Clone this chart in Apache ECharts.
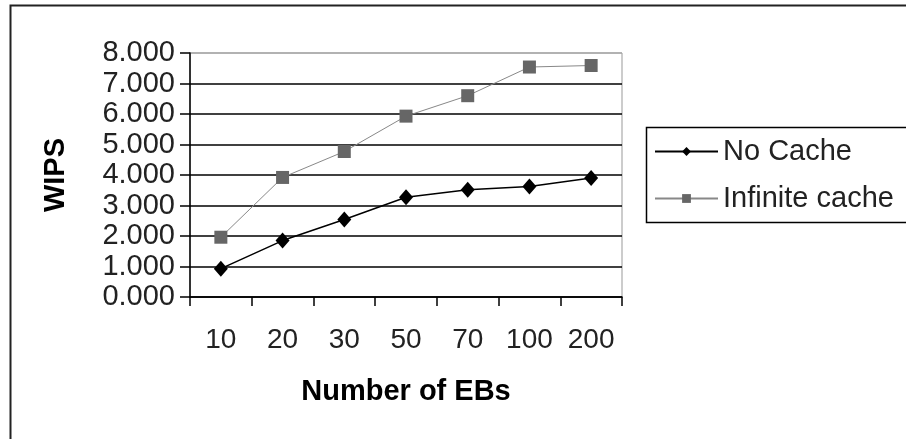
<!DOCTYPE html>
<html>
<head>
<meta charset="utf-8">
<script src="https://cdn.jsdelivr.net/npm/echarts@6/dist/echarts.min.js"></script>
<style>
html,body{margin:0;padding:0;background:#fff;}
#chart{width:906px;height:439px;}
</style>
</head>
<body>
<div id="chart"></div>
<script>
var categories = ['10', '20', '30', '50', '70', '100', '200'];
var noCache = [0.93, 1.85, 2.54, 3.27, 3.52, 3.62, 3.90];
var infiniteCache = [1.96, 3.92, 4.77, 5.93, 6.60, 7.54, 7.59];
var seriesNames = ['No Cache', 'Infinite cache'];
var yTicks = [0, 1, 2, 3, 4, 5, 6, 7, 8];

var FONT = "'Liberation Sans', Arial, sans-serif";
var chart = echarts.init(document.getElementById('chart'), null, {renderer: 'canvas'});
chart.setOption({
  animation: false,
  backgroundColor: '#fff',
  textStyle: {fontFamily: FONT},
  graphic: [{
    type: 'rect', silent: true, z: 0,
    shape: {x: 10.5, y: 5.5, width: 1000, height: 1000},
    style: {fill: 'none', stroke: '#222', lineWidth: 2}
  }, {
    type: 'rect', silent: true, z: 0,
    shape: {x: 646.5, y: 127.5, width: 400, height: 95},
    style: {fill: 'none', stroke: '#000', lineWidth: 1.5}
  }],
  grid: {
    left: 190, top: 53, width: 432, height: 244,
    show: true, borderColor: '#999', borderWidth: 1, backgroundColor: 'transparent'
  },
  legend: {
    orient: 'vertical',
    left: 646, top: 127,
    padding: [10, 5, 9, 8],
    itemGap: 18,
    itemWidth: 63, itemHeight: 11,
    borderWidth: 0,
    textStyle: {fontFamily: FONT, fontSize: 29, color: '#222'},
    data: seriesNames
  },
  xAxis: {
    type: 'category',
    data: categories,
    boundaryGap: true,
    name: 'Number of EBs',
    nameLocation: 'middle',
    nameGap: 80,
    nameTextStyle: {fontFamily: FONT, fontSize: 29, fontWeight: 'bold', color: '#000'},
    axisLine: {lineStyle: {color: '#000', width: 1.5}},
    axisTick: {show: true, interval: 0, alignWithLabel: false, length: 9, lineStyle: {color: '#000', width: 1.5}},
    axisLabel: {interval: 0, fontFamily: FONT, fontSize: 28, color: '#222', margin: 29},
    splitLine: {show: false}
  },
  yAxis: {
    type: 'value',
    min: yTicks[0], max: yTicks[yTicks.length - 1], interval: 1,
    name: 'WIPS',
    nameLocation: 'middle',
    nameGap: 120,
    nameTextStyle: {fontFamily: FONT, fontSize: 29, fontWeight: 'bold', color: '#000'},
    axisLine: {show: true, lineStyle: {color: '#000', width: 1.5}},
    axisTick: {show: true, length: 10, lineStyle: {color: '#000', width: 1.5}},
    axisLabel: {fontFamily: FONT, fontSize: 29, color: '#222', margin: 15,
      formatter: function (v) { return v.toFixed(3); }},
    splitLine: {show: true, lineStyle: {color: ['#000','#000','#000','#000','#000','#000','#000','#000','#aaa'], width: 1.5}}
  },
  series: [{
    name: seriesNames[0],
    type: 'line',
    data: noCache,
    symbol: 'diamond',
    symbolSize: [14, 16],
    lineStyle: {color: '#000', width: 1.5},
    itemStyle: {color: '#000'},
    z: 3
  }, {
    name: seriesNames[1],
    type: 'line',
    data: infiniteCache,
    symbol: 'rect',
    symbolSize: 13,
    lineStyle: {color: '#888', width: 1},
    itemStyle: {color: '#666'},
    z: 2
  }]
});
</script>
</body>
</html>
